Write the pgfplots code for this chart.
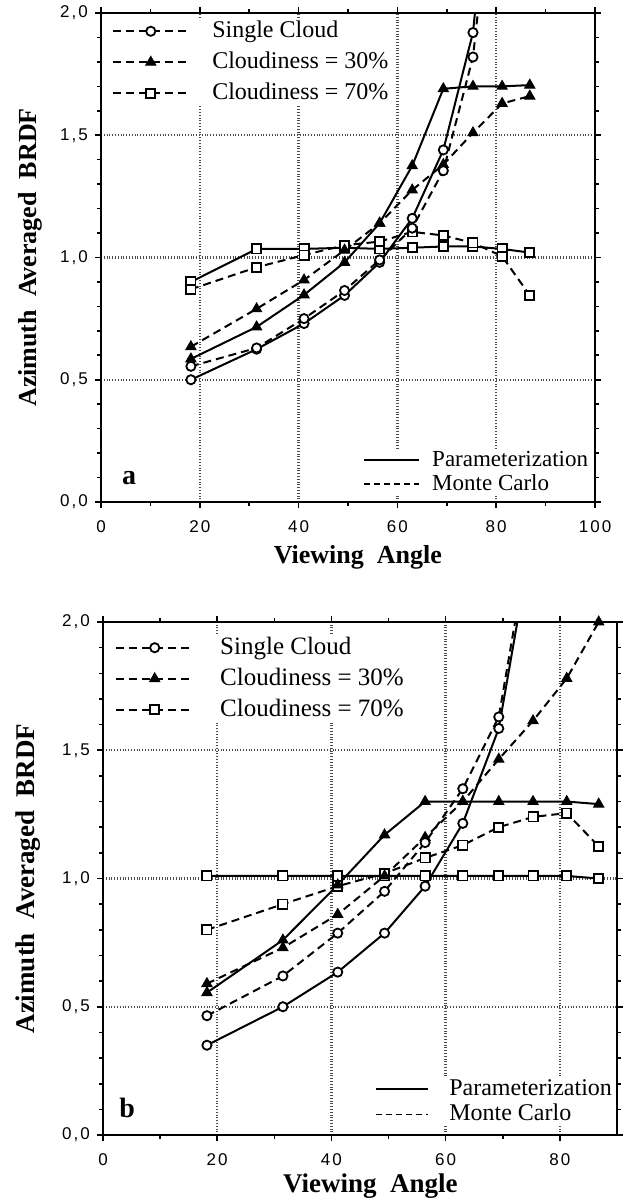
\documentclass[border=0pt]{standalone}
\usepackage{fontspec}
\setmainfont{Liberation Serif}
\newfontfamily\tickfont[LetterSpace=12]{Liberation Sans}
\usepackage{pgfplots}
\pgfplotsset{compat=1.18}

\pgfplotsset{
  brdf/.style={
    scale only axis, anchor=south west,
    xmin=0, ymin=0, ymax=2,
    ytick={0,0.5,1.0,1.5,2.0}, minor y tick num=4,
    minor x tick num=1,
    grid=major,
    major grid style={densely dotted, line width=1.2pt, black!70},
    axis line style={line width=1pt},
    tick align=outside, major tick length=3pt, minor tick length=2pt,
    every tick/.style={line width=0.8pt, black},
    ticklabel style={font=\tickfont\fontsize{8.5}{10}\selectfont},
    xticklabel style={yshift=-3pt},
    /pgf/number format/assume math mode=true,
    yticklabel style={/pgf/number format/.cd, use comma, fixed, fixed zerofill, precision=1},
    label style={font=\bfseries\fontsize{13}{15}\selectfont},
    legend cell align=left,
  },
  cP/.style={black, line width=1pt, mark=*, mark size=2.3pt, mark options={solid, fill=white, line width=0.9pt}},
  cM/.style={black, line width=1pt, dash pattern=on 4pt off 2.5pt, mark=*, mark size=2.3pt, mark options={solid, fill=white, line width=0.9pt}},
  tP/.style={black, line width=1pt, mark=triangle*, mark size=2.9pt, mark options={solid, fill=black, line width=0.5pt}},
  tM/.style={black, line width=1pt, dash pattern=on 4pt off 2.5pt, mark=triangle*, mark size=2.9pt, mark options={solid, fill=black, line width=0.5pt}},
  sP/.style={black, line width=1pt, mark=square*, mark size=2.3pt, mark options={solid, fill=white, line width=0.9pt}},
  sM/.style={black, line width=1pt, dash pattern=on 4pt off 2.5pt, mark=square*, mark size=2.3pt, mark options={solid, fill=white, line width=0.9pt}},
}

\begin{document}
\begin{tikzpicture}
\path[use as bounding box] (0,0) rectangle (313pt,600pt);

% ---------------- Panel a ----------------
\begin{axis}[brdf,
  at={(50.5pt,349pt)}, width=247pt, height=244.5pt,
  xmax=100, xtick={0,20,40,60,80,100},
  xlabel={Viewing\ \ Angle}, ylabel={Azimuth\ \ Averaged\ \ BRDF},
  xlabel style={at={(axis description cs:0.52,-0.113)}, anchor=center},
  ylabel style={at={(axis description cs:-0.144,0.5)}, anchor=center},
  legend style={at={(axis description cs:0.022,0.988)}, anchor=north west,
    draw=none, fill=white, inner sep=0pt, row sep=3.5pt, column sep=11.5pt,
    font=\fontsize{12}{14}\selectfont,
    nodes={inner sep=0pt, text height=9pt, text depth=3pt}},
  legend image code/.code={\draw[mark repeat=2, mark phase=2, #1] plot coordinates {(0pt,0pt) (18.75pt,0pt) (37.5pt,0pt)};},
]
\addlegendimage{cM}\addlegendentry{Single Cloud}
\addlegendimage{tM}\addlegendentry{Cloudiness = 30\%}
\addlegendimage{sM}\addlegendentry{Cloudiness = 70\%}
% Cloudiness 70%
\addplot[sP, forget plot] coordinates {(18.2,0.90) (31.5,1.035) (41.1,1.035) (49.3,1.04) (56.4,1.035) (63.0,1.04) (69.3,1.045) (75.3,1.045) (81.2,1.035) (86.8,1.02)};
\addplot[sM, forget plot] coordinates {(18.2,0.87) (31.5,0.96) (41.1,1.01) (49.3,1.05) (56.4,1.065) (63.0,1.105) (69.3,1.09) (75.3,1.06) (81.2,1.005) (86.8,0.845)};
% Cloudiness 30%
\addplot[tP, forget plot] coordinates {(18.2,0.585) (31.5,0.716) (41.1,0.847) (49.3,0.98) (56.4,1.14) (63.0,1.375) (69.3,1.69) (75.3,1.70) (81.2,1.70) (86.8,1.705)};
\addplot[tM, forget plot] coordinates {(18.2,0.635) (31.5,0.79) (41.1,0.908) (49.3,1.03) (56.4,1.14) (63.0,1.276) (69.3,1.38) (75.3,1.51) (81.2,1.63) (86.8,1.66)};
% Single cloud
\addplot[cP, forget plot] coordinates {(18.2,0.50) (31.5,0.625) (41.1,0.73) (49.3,0.845) (56.4,0.98) (63.0,1.16) (69.3,1.44) (75.3,1.92) (81.2,3.1)};
\addplot[cM, forget plot] coordinates {(18.2,0.555) (31.5,0.63) (41.1,0.75) (49.3,0.865) (56.4,0.99) (63.0,1.12) (69.3,1.355) (75.3,1.82) (81.2,2.9)};
\node[font=\bfseries\fontsize{14}{16}\selectfont] at (axis description cs:0.057,0.049) {a};
\end{axis}
\begin{axis}[scale only axis, anchor=south west,
  at={(50.5pt,349pt)}, width=247pt, height=244.5pt,
  xmin=0, xmax=100, ymin=0, ymax=2, hide axis,
  legend style={at={(axis description cs:0.530,0.110)}, anchor=north west,
    draw=none, fill=white, inner sep=0pt, row sep=0.5pt, column sep=6pt,
    font=\fontsize{11.5}{13}\selectfont,
    nodes={inner sep=0pt, text height=9pt, text depth=2.5pt}},
  legend cell align=left,
  legend image code/.code={\draw[#1] (0pt,0pt) -- (27.5pt,0pt);},
]
\addlegendimage{black, line width=1pt}\addlegendentry{Parameterization}
\addlegendimage{black, line width=0.8pt, dash pattern=on 3pt off 2pt}\addlegendentry{Monte Carlo}
\end{axis}

% ---------------- Panel b ----------------
\begin{axis}[brdf,
  at={(51.5pt,32.5pt)}, width=257pt, height=256.5pt,
  xmax=90, xtick={0,20,40,60,80},
  xlabel={Viewing\ \ Angle}, ylabel={Azimuth\ \ Averaged\ \ BRDF},
  label style={font=\bfseries\fontsize{13.5}{15}\selectfont},
  xlabel style={at={(axis description cs:0.52,-0.1)}, anchor=center},
  ylabel style={at={(axis description cs:-0.146,0.5)}, anchor=center},
  legend style={at={(axis description cs:0.023,0.975)}, anchor=north west,
    draw=none, fill=white, inner sep=0pt, row sep=3pt, column sep=13pt,
    font=\fontsize{12.5}{14}\selectfont,
    nodes={inner sep=0pt, text height=9.5pt, text depth=3pt}},
  legend image code/.code={\draw[mark repeat=2, mark phase=2, #1] plot coordinates {(0pt,0pt) (19.25pt,0pt) (38.5pt,0pt)};},
]
\addlegendimage{cM}\addlegendentry{Single Cloud}
\addlegendimage{tM}\addlegendentry{Cloudiness = 30\%}
\addlegendimage{sM}\addlegendentry{Cloudiness = 70\%}
% Cloudiness 70%
\addplot[sP, forget plot] coordinates {(18.2,1.01) (31.5,1.01) (41.1,1.01) (49.3,1.01) (56.4,1.01) (63.0,1.01) (69.3,1.01) (75.3,1.01) (81.2,1.01) (86.8,1.00)};
\addplot[sM, forget plot] coordinates {(18.2,0.80) (31.5,0.90) (41.1,0.97) (49.3,1.02) (56.4,1.08) (63.0,1.13) (69.3,1.20) (75.3,1.24) (81.2,1.255) (86.8,1.125)};
% Cloudiness 30%
\addplot[tP, forget plot] coordinates {(18.2,0.555) (31.5,0.76) (41.1,0.975) (49.3,1.17) (56.4,1.30) (63.0,1.30) (69.3,1.30) (75.3,1.30) (81.2,1.30) (86.8,1.29)};
\addplot[tM, forget plot] coordinates {(18.2,0.59) (31.5,0.73) (41.1,0.86) (49.3,1.01) (56.4,1.16) (63.0,1.30) (69.3,1.465) (75.3,1.615) (81.2,1.78) (86.8,2.0)};
% Single cloud
\addplot[cP, forget plot] coordinates {(18.2,0.35) (31.5,0.50) (41.1,0.635) (49.3,0.787) (56.4,0.97) (63.0,1.215) (69.3,1.585) (75.3,2.35)};
\addplot[cM, forget plot] coordinates {(18.2,0.465) (31.5,0.62) (41.1,0.787) (49.3,0.95) (56.4,1.14) (63.0,1.35) (69.3,1.63) (75.3,2.41)};
\node[font=\bfseries\fontsize{14}{16}\selectfont] at (axis description cs:0.047,0.053) {b};
\end{axis}
\begin{axis}[scale only axis, anchor=south west,
  at={(51.5pt,32.5pt)}, width=257pt, height=256.5pt,
  xmin=0, xmax=90, ymin=0, ymax=2, hide axis,
  legend style={at={(axis description cs:0.529,0.112)}, anchor=north west,
    draw=none, fill=white, inner sep=0pt, row sep=1pt, column sep=10pt,
    font=\fontsize{12}{13.5}\selectfont,
    nodes={inner sep=0pt, text height=9pt, text depth=2.5pt}},
  legend cell align=left,
  legend image code/.code={\draw[#1] (0pt,0pt) -- (26pt,0pt);},
]
\addlegendimage{black, line width=1pt}\addlegendentry{Parameterization}
\addlegendimage{black, line width=0.8pt, dash pattern=on 3pt off 2pt}\addlegendentry{Monte Carlo}
\end{axis}
\end{tikzpicture}
\end{document}
